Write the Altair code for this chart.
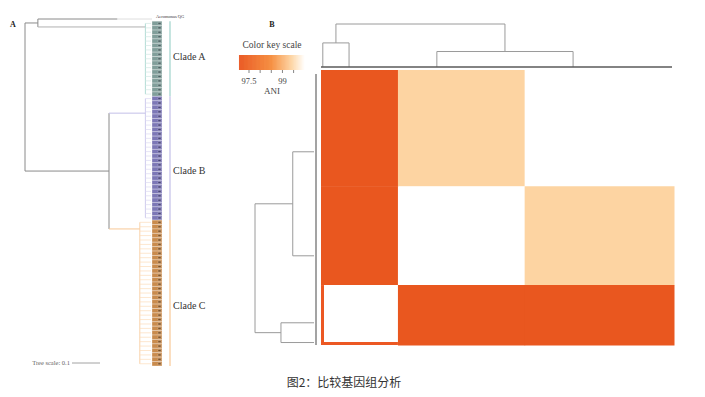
import altair as alt
import pandas as pd

# ---------------- Panel A : phylogenetic tree ----------------
clade_names = ["Clade A", "Clade B", "Clade C"]
clade_sizes = [17, 28, 33]                       # genomes per clade
outgroup_name = "Aeromonas QG"
strip_colors = ["#809e9a", "#7c77b6", "#c98b4d"]
strip_marks = ["#33474a", "#2f2a5c", "#5c3611"]
bracket_colors = ["#9fd3cb", "#c3bfe8", "#f8c896"]
leaf_colors = ["#d2e8e4", "#dddaf2", "#fcdcba"]
arm_rows = [1.8, 21.3, 47.5]                     # row where each clade stem attaches
label_rows = [8.6, 34.4, 64.9]                   # row of each clade label
crown_depth = [0.43, 0.43, 0.41]                 # substitutions / site
oa_depth = 0.046
bc_depth = 0.30
outgroup_depth = 0.33
tip_depth = 0.45
tree_scale_value = 0.1
tree_scale_label = "Tree scale: 0.1"

# ---------------- Panel B : ANI heatmap ----------------
heat_groups = ["A", "B", "C"]                    # column order
heat_sizes = [17, 28, 33]
row_order = ["C", "B", "A"]
ani_pairs = {("A", "A"): 100.0, ("A", "B"): 97.1, ("A", "C"): 97.1,
             ("B", "B"): 100.0, ("B", "C"): 99.4, ("C", "C"): 100.0}
ani_stops = [97.05, 98.5, 99.4, 100.0]
ani_colors = ["#e9551e", "#f58c3c", "#fdd4a2", "#ffffff"]
key_ticks = [97.5, 98.0, 98.5, 99.0, 99.5]
key_labels = [97.5, 99.0]
dend_height = {"A": 0.56, "BC": 0.36, "root": 1.0}
col_arms = {"A": [0.4, 6.2], "B": [25.6], "C": [55.7]}
row_arms = {"C": [23.2], "B": [52.7], "A": [71.7, 77.3]}
caption = "图2：比较基因组分析"

# ---------------- layout (figure pixels) ----------------
TX0, TPX = 25, 280
RY0, RH = 19, 4.42
SX0, SX1 = 152, 162
BRX = 170
HX0, HX1, HY0, HY1 = 321, 674, 70, 345
TOP_LEAF_Y, TOP_UNIT = 67, 43
LEFT_LEAF_X, LEFT_UNIT = 314, 59
KX0, KPX = 249, 22.3
NG = sum(heat_sizes)

tx = lambda d: TX0 + TPX * d
ry = lambda r: RY0 + RH * r
cx = lambda i: HX0 + (HX1 - HX0) * i / NG
cy = lambda j: HY0 + (HY1 - HY0) * j / NG
kx = lambda v: KX0 + KPX * (v - 97.5)

segs = []
def seg(x, y, x2, y2, c="#8a8a8a", w=1.0):
    segs.append(dict(x=x, y=y, x2=x2, y2=y2, c=c, w=w))

rects = []
def rect(x, y, x2, y2, c, o=1.0):
    rects.append(dict(x=x, y=y, x2=x2, y2=y2, c=c, o=o))

# ---- tree ----
starts = []
s = 1
for n in clade_sizes:
    starts.append(s)
    s += n
y_oa = (0 + arm_rows[0]) / 2
y_bc = (arm_rows[1] + arm_rows[2]) / 2
seg(tx(0), ry(y_oa), tx(0), ry(y_bc))
seg(tx(0), ry(y_oa), tx(oa_depth), ry(y_oa))
seg(tx(oa_depth), ry(0), tx(oa_depth), ry(arm_rows[0]))
seg(tx(oa_depth), ry(0), tx(outgroup_depth), ry(0))
seg(tx(outgroup_depth), ry(0), tx(tip_depth) + 1, ry(0), "#dedede")
seg(tx(0), ry(y_bc), tx(bc_depth), ry(y_bc))
seg(tx(bc_depth), ry(arm_rows[1]), tx(bc_depth), ry(arm_rows[2]))
stem_from = [oa_depth, bc_depth, bc_depth]
for k in range(3):
    seg(tx(stem_from[k]), ry(arm_rows[k]), tx(crown_depth[k]), ry(arm_rows[k]),
        "#b0b0b0" if k == 0 else bracket_colors[k])
    first, last = starts[k], starts[k] + clade_sizes[k] - 1
    seg(tx(crown_depth[k]), ry(first), tx(crown_depth[k]), ry(last), bracket_colors[k], 0.8)
    seg(BRX, ry(first) - RH / 2, BRX, ry(last) + RH / 2, bracket_colors[k], 1.2)
    for r in range(first, last + 1):
        seg(tx(crown_depth[k]), ry(r), tx(tip_depth), ry(r), leaf_colors[k], 0.7)
        rect(SX0, ry(r) - RH / 2, SX1, ry(r) + RH / 2, strip_colors[k])
        rect(SX1 - 4, ry(r) - 1, SX1 - 1, ry(r) + 1, strip_marks[k], 0.7)
seg(72, 363, 72 + TPX * tree_scale_value, 363, "#8a8a8a", 0.8)

# ---- heatmap blocks ----
col_start = {}
acc = 0
for g, n in zip(heat_groups, heat_sizes):
    col_start[g] = (acc, acc + n)
    acc += n
row_start = {}
acc = 0
for g in row_order:
    n = heat_sizes[heat_groups.index(g)]
    row_start[g] = (acc, acc + n)
    acc += n
heat = []
for rg in row_order:
    for cg in heat_groups:
        key = tuple(sorted((rg, cg)))
        heat.append(dict(x=cx(col_start[cg][0]), x2=cx(col_start[cg][1]) + 0.5,
                         y=cy(row_start[rg][0]), y2=cy(row_start[rg][1]) + 0.5,
                         ani=ani_pairs[key]))
# colour key bar
v = ani_stops[0]
step = 0.02
while v < ani_stops[-1] - 1e-9:
    heat.append(dict(x=kx(v), x2=kx(v + step) + 0.4, y=55, y2=70, ani=min(v + step / 2, 100.0)))
    v += step
for t in key_ticks:
    seg(kx(t), 70, kx(t), 73, "#666666", 0.8)

# orange frame on the bottom-left block
a0, a1 = row_start["A"]
seg(HX0 + 1.5, cy(a0), HX0 + 1.5, cy(a1), "#ec5823", 3)
seg(HX0, HY1 - 1.5, cx(col_start["A"][1]), HY1 - 1.5, "#ec5823", 3)

# ---- top dendrogram ----
ty = lambda h: TOP_LEAF_Y - TOP_UNIT * h
dc = "#9a9a9a"
ax = [cx(i) for i in col_arms["A"]]
for x in ax:
    seg(x, ty(0), x, ty(dend_height["A"]), dc)
seg(ax[0], ty(dend_height["A"]), ax[1], ty(dend_height["A"]), dc)
bx, cxx = cx(col_arms["B"][0]), cx(col_arms["C"][0])
seg(bx, ty(0), bx, ty(dend_height["BC"]), dc)
seg(cxx, ty(0), cxx, ty(dend_height["BC"]), dc)
seg(bx, ty(dend_height["BC"]), cxx, ty(dend_height["BC"]), dc)
am, bcm = sum(ax) / 2, (bx + cxx) / 2
seg(am, ty(dend_height["A"]), am, ty(1), dc)
seg(bcm, ty(dend_height["BC"]), bcm, ty(1), dc)
seg(am, ty(1), bcm, ty(1), dc)
seg(HX0, TOP_LEAF_Y, HX1 - 2, TOP_LEAF_Y, "#5a5a5a", 1.4)

# ---- left dendrogram ----
lx = lambda h: LEFT_LEAF_X - LEFT_UNIT * h
cyv, byv = cy(row_arms["C"][0]), cy(row_arms["B"][0])
seg(lx(0), cyv, lx(dend_height["BC"]), cyv, dc)
seg(lx(0), byv, lx(dend_height["BC"]), byv, dc)
seg(lx(dend_height["BC"]), cyv, lx(dend_height["BC"]), byv, dc)
ay = [cy(j) for j in row_arms["A"]]
for y in ay:
    seg(lx(0), y, lx(dend_height["A"]), y, dc)
seg(lx(dend_height["A"]), ay[0], lx(dend_height["A"]), ay[1], dc)
bcy, aym = (cyv + byv) / 2, sum(ay) / 2
seg(lx(dend_height["BC"]), bcy, lx(1), bcy, dc)
seg(lx(dend_height["A"]), aym, lx(1), aym, dc)
seg(lx(1), bcy, lx(1), aym, dc)
seg(LEFT_LEAF_X + 2, HY0 + 4, LEFT_LEAF_X + 2, HY1, "#666666", 1.2)

# ---------------- chart ----------------
xs = alt.Scale(domain=[8, 697], nice=False, zero=False)
ys = alt.Scale(domain=[8, 389], nice=False, zero=False, reverse=True)
X = lambda f="x": alt.X(f"{f}:Q", scale=xs, axis=None)
Y = lambda f="y": alt.Y(f"{f}:Q", scale=ys, axis=None)

heat_layer = alt.Chart(pd.DataFrame(heat)).mark_rect(strokeWidth=0).encode(
    x=X(), x2="x2:Q", y=Y(), y2="y2:Q",
    color=alt.Color("ani:Q", scale=alt.Scale(domain=ani_stops, range=ani_colors,
                                              interpolate="rgb", zero=False, nice=False,
                                              clamp=True), legend=None))

rect_layer = alt.Chart(pd.DataFrame(rects)).mark_rect(stroke="white", strokeWidth=0.3).encode(
    x=X(), x2="x2:Q", y=Y(), y2="y2:Q",
    fill=alt.Fill("c:N", scale=None), opacity=alt.Opacity("o:Q", scale=None))

seg_layer = alt.Chart(pd.DataFrame(segs)).mark_rule(strokeCap="butt").encode(
    x=X(), x2="x2:Q", y=Y(), y2="y2:Q",
    stroke=alt.Stroke("c:N", scale=None), strokeWidth=alt.StrokeWidth("w:Q", scale=None))

def texts(rows, font="Liberation Serif", align="left", weight="normal", color="#333333"):
    return alt.Chart(pd.DataFrame(rows)).mark_text(
        font=font, align=align, baseline="middle", fontWeight=weight, color=color).encode(
        x=X(), y=Y(), text="t:N", size=alt.Size("s:Q", scale=None))

clade_text = [dict(x=173, y=ry(label_rows[k]), t=clade_names[k], s=10) for k in range(3)]
left_text = clade_text + [dict(x=156, y=ry(0) - 2.5, t=outgroup_name, s=4.5)]
center_text = [
    dict(x=272, y=45, t="Color key scale", s=9.5),
    dict(x=272, y=91, t="ANI", s=9),
] + [dict(x=kx(v), y=80.5, t=("%g" % v), s=8.5) for v in key_labels]
right_text = [dict(x=70, y=363, t=tree_scale_label, s=6.5)]
bold_text = [dict(x=13, y=25, t="A", s=8), dict(x=272, y=25, t="B", s=8)]
cap_text = [dict(x=344, y=383, t=caption, s=12)]

chart = alt.layer(
    heat_layer, rect_layer, seg_layer,
    texts(left_text),
    texts(center_text, align="center", color="#444444"),
    texts(right_text, align="right", color="#666666"),
    texts(bold_text, align="center", weight="bold", color="#222222"),
    texts(cap_text, font="Noto Sans CJK SC", align="center", color="#333333"),
).properties(
    width=689, height=381, padding=0, autosize=alt.AutoSizeParams(type="none")
).configure_view(stroke=None)

chart.save("out.html", embed_options={"renderer": "svg", "actions": False})
